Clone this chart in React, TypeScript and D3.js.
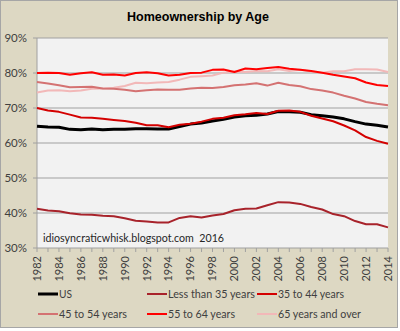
import React from "react";
import * as d3 from "d3";

const years = d3.range(1982, 2015);
const yTicks = [30, 40, 50, 60, 70, 80, 90];
const xTickYears = d3.range(1982, 2015, 2);

const us = [64.8, 64.6, 64.5, 63.9, 63.8, 64.0, 63.8, 63.9, 63.9, 64.1, 64.1, 64.0, 64.0, 64.7, 65.4, 65.7, 66.3, 66.8, 67.4, 67.8, 67.9, 68.3, 69.0, 68.9, 68.8, 68.1, 67.8, 67.4, 66.9, 66.1, 65.4, 65.1, 64.6];
const lt35 = [41.2, 40.7, 40.5, 39.9, 39.6, 39.5, 39.2, 39.1, 38.5, 37.8, 37.6, 37.3, 37.3, 38.6, 39.1, 38.7, 39.3, 39.7, 40.8, 41.2, 41.3, 42.2, 43.1, 43.0, 42.6, 41.7, 41.0, 39.7, 39.1, 37.7, 36.8, 36.8, 35.9];
const a35to44 = [70.0, 69.3, 68.9, 68.1, 67.3, 67.2, 66.9, 66.6, 66.3, 65.8, 65.1, 65.1, 64.5, 65.2, 65.5, 66.1, 66.9, 67.2, 67.9, 68.2, 68.6, 68.3, 69.2, 69.3, 68.9, 67.8, 67.0, 66.2, 65.0, 63.6, 61.7, 60.6, 59.8];
const a45to54 = [77.4, 77.0, 76.5, 75.9, 76.0, 76.1, 75.6, 75.5, 75.2, 74.8, 75.1, 75.3, 75.2, 75.2, 75.6, 75.8, 75.7, 76.0, 76.5, 76.7, 77.1, 76.4, 77.2, 76.6, 76.2, 75.4, 75.0, 74.4, 73.5, 72.7, 71.7, 71.2, 70.8];
const a55to64 = [80.0, 80.1, 80.0, 79.5, 79.9, 80.2, 79.5, 79.6, 79.3, 80.0, 80.2, 79.9, 79.3, 79.5, 80.0, 80.1, 80.9, 81.0, 80.3, 81.3, 81.1, 81.4, 81.7, 81.2, 80.9, 80.6, 80.1, 79.5, 79.0, 78.5, 77.3, 76.6, 76.3];
const a65plus = [74.4, 75.0, 75.1, 74.8, 75.0, 75.5, 75.6, 75.8, 76.3, 77.2, 77.1, 77.3, 77.4, 78.1, 78.9, 79.1, 79.3, 80.1, 80.4, 80.3, 80.6, 80.5, 81.1, 80.6, 80.9, 80.4, 80.1, 80.5, 80.5, 81.1, 81.1, 81.0, 80.3];

const seriesNames = ["US", "Less than 35 years", "35 to 44 years", "45 to 54 years", "55 to 64 years", "65 years and over"];
const seriesValues = [us, lt35, a35to44, a45to54, a55to64, a65plus];
const seriesColors = ["#000000", "#a8232b", "#d40000", "#d47272", "#ff0000", "#f2b8b8"];
const seriesWidths = [3, 2, 2, 2, 2, 2];
const legendTextWidths = [13, 87, 66, 68, 67, 83];
const drawOrder = [5, 3, 4, 1, 0, 2];

const font = "Lato, 'Liberation Sans', Arial, sans-serif";
const titleFont = "'Liberation Sans', Arial, sans-serif";
const textColor = "#404040";

export default function App() {
  const W = 400, H = 331;
  const left = 37, right = 388, top = 38, bottom = 248;
  const x = d3.scaleLinear().domain([1982, 2014]).range([left, right]);
  const y = d3.scaleLinear().domain([30, 90]).range([bottom, top]);
  const line = d3.line<number>().x((_, i) => x(years[i])).y((v) => y(v));

  const legendCols = [38, 147, 257];
  const legendRows = [294, 314];

  return (
    <svg width={W} height={H} style={{ position: "absolute", left: 0, top: 0, display: "block" }}>
      <rect x={0} y={0} width={W} height={H} fill="#ffffff" />
      <rect x={0.5} y={0.5} width={397} height={327} fill="#ddd8c3" stroke="#a6a6a6" />
      <rect x={left} y={top} width={right - left} height={bottom - top} fill="#f2f2f2" />
      <text x={198} y={21} textAnchor="middle" fontFamily={titleFont} fontWeight="bold" fontSize={12.5} fill="#000">
        Homeownership by Age
      </text>
      {yTicks.map((t) => (
        <g key={t}>
          <line x1={left - 4} x2={right} y1={y(t)} y2={y(t)} stroke="#a0a0a0" strokeWidth={1} />
          <text x={27} y={y(t)} dy="0.35em" textAnchor="end" fontFamily={font} fontSize={11.5} fill={textColor}>
            {t}%
          </text>
        </g>
      ))}
      <line x1={left} x2={left} y1={top} y2={bottom} stroke="#a0a0a0" />
      {years.map((yr) => (
        <line key={yr} x1={x(yr)} x2={x(yr)} y1={bottom} y2={bottom + 4} stroke="#a0a0a0" />
      ))}
      {xTickYears.map((yr) => (
        <text
          key={yr}
          transform={`translate(${x(yr)},${bottom + 8}) rotate(-90)`}
          dy="0.35em"
          textAnchor="end"
          fontFamily={font}
          fontSize={11}
          fill={textColor}
        >
          {yr}
        </text>
      ))}
      <text
        x={43}
        y={242}
        fontFamily={font}
        fontSize={12}
        fill="#262626"
        textLength={181}
        lengthAdjust="spacingAndGlyphs"
        style={{ whiteSpace: "pre" }}
      >
        {"idiosyncraticwhisk.blogspot.com  2016"}
      </text>
      {drawOrder.map((i) => (
        <path
          key={i}
          d={line(seriesValues[i]) || ""}
          fill="none"
          stroke={seriesColors[i]}
          strokeWidth={seriesWidths[i]}
          strokeLinejoin="round"
        />
      ))}
      {seriesNames.map((name, i) => {
        const cx = legendCols[i % 3];
        const cy = legendRows[Math.floor(i / 3)];
        return (
          <g key={name}>
            <line x1={cx} x2={cx + 20} y1={cy} y2={cy} stroke={seriesColors[i]} strokeWidth={seriesWidths[i]} />
            <text
              x={cx + 21}
              y={cy}
              dy="0.35em"
              fontFamily={font}
              fontSize={11.5}
              fill={textColor}
              textLength={legendTextWidths[i]}
              lengthAdjust="spacingAndGlyphs"
            >
              {name}
            </text>
          </g>
        );
      })}
    </svg>
  );
}
